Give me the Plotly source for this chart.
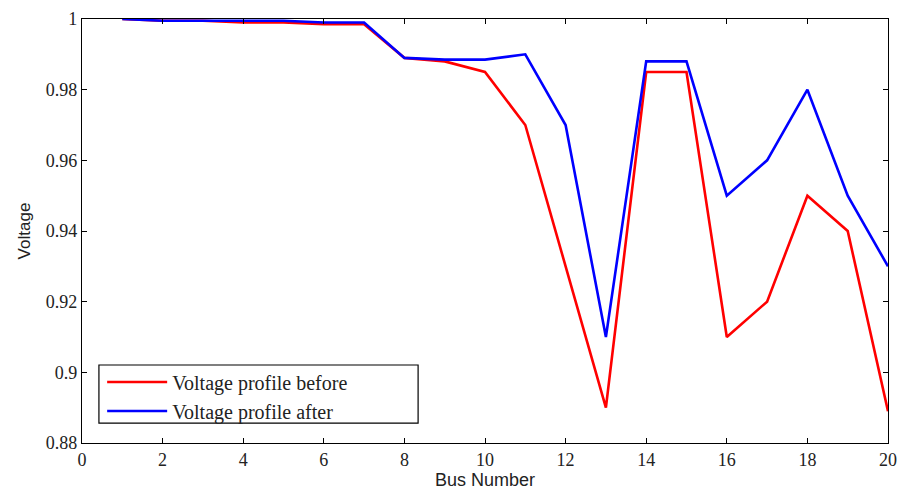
import plotly.graph_objects as go

bus = list(range(1, 21))
v_before = [1.0, 0.9995, 0.9995, 0.999, 0.999, 0.9985, 0.9985, 0.989, 0.988, 0.985,
            0.970, 0.930, 0.890, 0.985, 0.985, 0.910, 0.920, 0.950, 0.940, 0.889]
v_after = [1.0, 0.9995, 0.9995, 0.9995, 0.9995, 0.999, 0.999, 0.989, 0.9885, 0.9885,
           0.990, 0.970, 0.910, 0.988, 0.988, 0.950, 0.960, 0.980, 0.950, 0.930]
x_ticks = list(range(0, 21, 2))
y_ticks = [0.88, 0.9, 0.92, 0.94, 0.96, 0.98, 1.0]
y_tick_text = ["0.88", "0.9", "0.92", "0.94", "0.96", "0.98", "1"]

fig = go.Figure()
fig.add_trace(go.Scatter(x=bus, y=v_before, mode="lines", name="Voltage profile before",
                         line=dict(color="#ff0000", width=2.6)))
fig.add_trace(go.Scatter(x=bus, y=v_after, mode="lines", name="Voltage profile after",
                         line=dict(color="#0000ff", width=2.6)))

axis_common = dict(showgrid=False, zeroline=False, showline=True, linecolor="black",
                   linewidth=1.2, mirror="ticks", ticks="inside", ticklen=5,
                   tickcolor="black", automargin=False,
                   tickfont=dict(family="Liberation Serif", size=18, color="#222"))
fig.update_xaxes(range=[0, 20], tickvals=x_ticks,
                 title=dict(text="Bus Number", font=dict(family="Liberation Sans", size=18, color="#222"), standoff=1),
                 **axis_common)
fig.update_yaxes(range=[0.88, 1.0], tickvals=y_ticks, ticktext=y_tick_text,
                 title=dict(text="Voltage", font=dict(family="Liberation Sans", size=17, color="#222"), standoff=10),
                 **axis_common)

# legend frame
fig.add_shape(type="rect", xref="paper", yref="paper",
              x0=0.021, x1=0.417, y0=0.047, y1=0.184,
              line=dict(color="black", width=1.2), fillcolor="white", layer="above")

fig.update_layout(
    width=899, height=491,
    margin=dict(l=82, r=11, t=19, b=48),
    plot_bgcolor="white", paper_bgcolor="white",
    legend=dict(x=0.025, y=0.19, xanchor="left", yanchor="top",
                bgcolor="rgba(0,0,0,0)", borderwidth=0,
                font=dict(family="Liberation Serif", size=20, color="#222"),
                itemwidth=60, tracegroupgap=0),
    showlegend=True,
)
fig.write_html("out.html",
               config={"displayModeBar": False},
               post_script="document.body.style.margin='0';document.body.style.overflow='hidden';")
